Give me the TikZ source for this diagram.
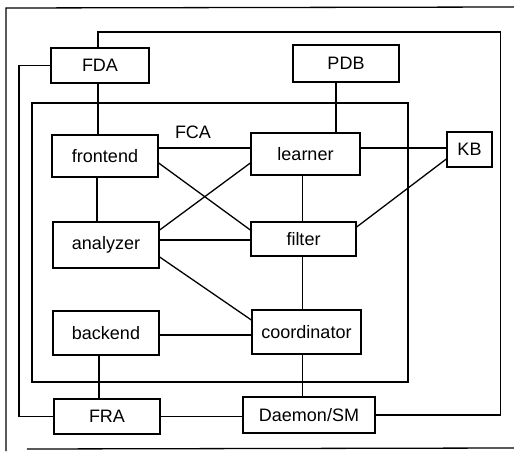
\documentclass[tikz,border=0pt]{standalone}
\usepackage{fontspec}
\setmainfont{Liberation Sans}
\begin{document}
\begin{tikzpicture}[x=1pt,y=-1pt,
  wire/.style={line width=1.3pt, line join=miter},
  box/.style={draw, line width=1.3pt, inner sep=0pt, font=\fontsize{18}{20}\selectfont},
  lbl/.style={inner sep=0pt, font=\fontsize{18}{20}\selectfont}]
\useasboundingbox (0,0) rectangle (514,452);
% outer frame
\draw[wire] (514,7) -- (6,8) -- (6,451);
\draw[wire] (27,449) -- (514,448);
% inner FCA frame
\draw[wire] (32,103) rectangle (408,382);
\node[lbl] (fca) at (193,132) {FCA};
% boxes
\node[box, minimum width=98pt, minimum height=35pt] (FDA) at (100,65.5) {FDA};
\node[box, minimum width=106pt, minimum height=37pt] (PDB) at (346,63.5) {PDB};
\node[box, minimum width=106pt, minimum height=42pt] (frontend) at (105,156) {frontend};
\node[box, minimum width=109pt, minimum height=42pt] (learner) at (305.5,154) {learner};
\node[box, minimum width=45pt, minimum height=35pt] (KB) at (469.5,149.5) {KB};
\node[box, minimum width=106pt, minimum height=46pt] (analyzer) at (106,245) {analyzer};
\node[box, minimum width=105pt, minimum height=34pt] (filter) at (303.5,239) {filter};
\node[box, minimum width=106pt, minimum height=44pt] (backend) at (106,333) {backend};
\node[box, minimum width=109pt, minimum height=44pt] (coordinator) at (306.5,332) {coordinator};
\node[box, minimum width=106pt, minimum height=35pt] (FRA) at (107,416.5) {FRA};
\node[box, minimum width=132pt, minimum height=36pt] (Daemon) at (309,415) {Daemon/SM};
% outer wires
\coordinate (tr) at (500.7,32);
\coordinate (lw) at (19,0);
\draw[wire] ([xshift=-2pt]FDA.north) |- (tr) |- (Daemon.east);
\draw[wire] (FDA.west) -| (lw |- FRA.west) -- (FRA.west);
% vertical connectors
\draw[wire] ([xshift=-2pt]FDA.south) -- ([xshift=-2pt]FDA.south |- frontend.north);
\draw[wire] ([xshift=-8pt]frontend.south) -- ([xshift=-8pt]frontend.south |- analyzer.north);
\draw[wire] ([xshift=-7pt]backend.south) -- ([xshift=-7pt]backend.south |- FRA.north);
\draw[wire] ([xshift=-10pt]PDB.south) -- ([xshift=-10pt]PDB.south |- learner.north);
\draw[wire] ([xshift=-1pt]filter.north) -- ([xshift=-1pt]filter.north |- learner.south);
\draw[wire] ([xshift=-1pt]filter.south) -- ([xshift=-1pt]filter.south |- coordinator.north);
\draw[wire] ([xshift=-4pt]coordinator.south) -- ([xshift=-4pt]coordinator.south |- Daemon.north);
% horizontal connectors
\draw[wire] ([yshift=8pt]frontend.east) -- ([yshift=8pt]frontend.east -| learner.west);
\draw[wire] ([yshift=6pt]learner.east) -- ([yshift=6pt]learner.east -| KB.west);
\draw[wire] ([yshift=5pt]analyzer.east) -- ([yshift=5pt]analyzer.east -| filter.west);
\draw[wire] ([yshift=-2pt]backend.east) -- ([yshift=-2pt]backend.east -| coordinator.west);
\draw[wire] (FRA.east) -- (FRA.east -| Daemon.west);
% diagonal connectors
\draw[wire] ([yshift=-7pt]frontend.east) -- ([yshift=9pt]filter.west);
\draw[wire] ([yshift=15pt]analyzer.east) -- ([yshift=-9pt]learner.west);
\draw[wire] ([yshift=-12pt]analyzer.east) -- ([yshift=12pt]coordinator.west);
\draw[wire] ([yshift=-9.5pt]KB.west) -- ([yshift=12pt]filter.east);
\end{tikzpicture}
\end{document}
